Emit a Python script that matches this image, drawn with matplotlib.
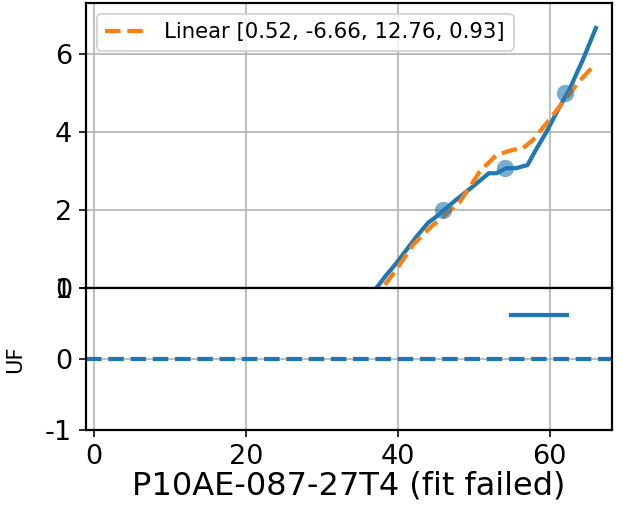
import matplotlib
matplotlib.use("Agg")
import matplotlib.pyplot as plt
import numpy as np

data_x = [37.2, 38.5, 39.8, 42.5, 44.0, 45.1, 47.7, 49.9, 52.0, 53.0, 54.3, 55.6,
          57.1, 58.2, 59.6, 61.1, 62.6, 64.4, 66.1]
data_y = [0.0, 0.33, 0.63, 1.32, 1.67, 1.83, 2.26, 2.6, 2.94, 2.94, 3.07, 3.07,
          3.15, 3.54, 4.0, 4.56, 5.08, 5.85, 6.66]
fit_x = [38.3, 39.8, 42.0, 44.4, 46.0, 48.2, 50.8, 53.0, 55.2, 56.5, 57.8, 59.6,
         61.7, 63.9, 65.7]
fit_y = [0.08, 0.46, 1.1, 1.57, 1.83, 2.21, 2.98, 3.41, 3.54, 3.58, 3.79, 4.22,
         4.74, 5.29, 5.67]
pts_x = [46.0, 54.1, 62.0]
pts_y = [2.0, 3.07, 5.0]
fit_params = [0.52, -6.66, 12.76, 0.93]
uf_seg_x = [54.9, 62.3]
uf_seg_y = [0.62, 0.62]
uf_level = 0.0
title = "P10AE-087-27T4 (fit failed)"

plt.rcParams['font.size'] = 13.5
plt.rcParams['axes.linewidth'] = 1.1
fig = plt.figure(figsize=(623 / 144, 511 / 144), dpi=144)
ax = fig.add_axes([0.138, 0.4364, 0.844, 0.5576])
ax2 = fig.add_axes([0.138, 0.1585, 0.844, 0.2779], sharex=ax)

ax.plot(data_x, data_y, color='C0', lw=2.1)
ax.plot(fit_x, fit_y, color='C1', lw=2.1, ls='--',
        label="Linear [" + ", ".join("%.2f" % p for p in fit_params) + "]")
ax.scatter(pts_x, pts_y, s=75, color='C0', alpha=0.6, linewidths=0, zorder=3)
ax.set_ylim(0, 7.3)
ax.set_yticks([0, 2, 4, 6])
ax.grid(True)
ax.legend(loc='upper left', fontsize=10.6)
plt.setp(ax.get_xticklabels(), visible=False)
ax.tick_params(axis='x', length=0)

ax2.axhline(uf_level, color='C0', ls='--', lw=2.1)
ax2.plot(uf_seg_x, uf_seg_y, color='C0', lw=2.1)
ax2.set_ylim(-1, 1)
ax2.set_yticks([-1, 0, 1])
ax2.set_yticklabels(['-1', '0', '1'])
ax2.set_ylabel("UF", fontsize=10.5, labelpad=10)
ax2.grid(True)
ax2.set_xlim(-1.05, 68.2)
ax2.set_xticks([0, 20, 40, 60])
ax2.set_xlabel(title, fontsize=16, labelpad=0)

fig.savefig("out.png", dpi=144)
